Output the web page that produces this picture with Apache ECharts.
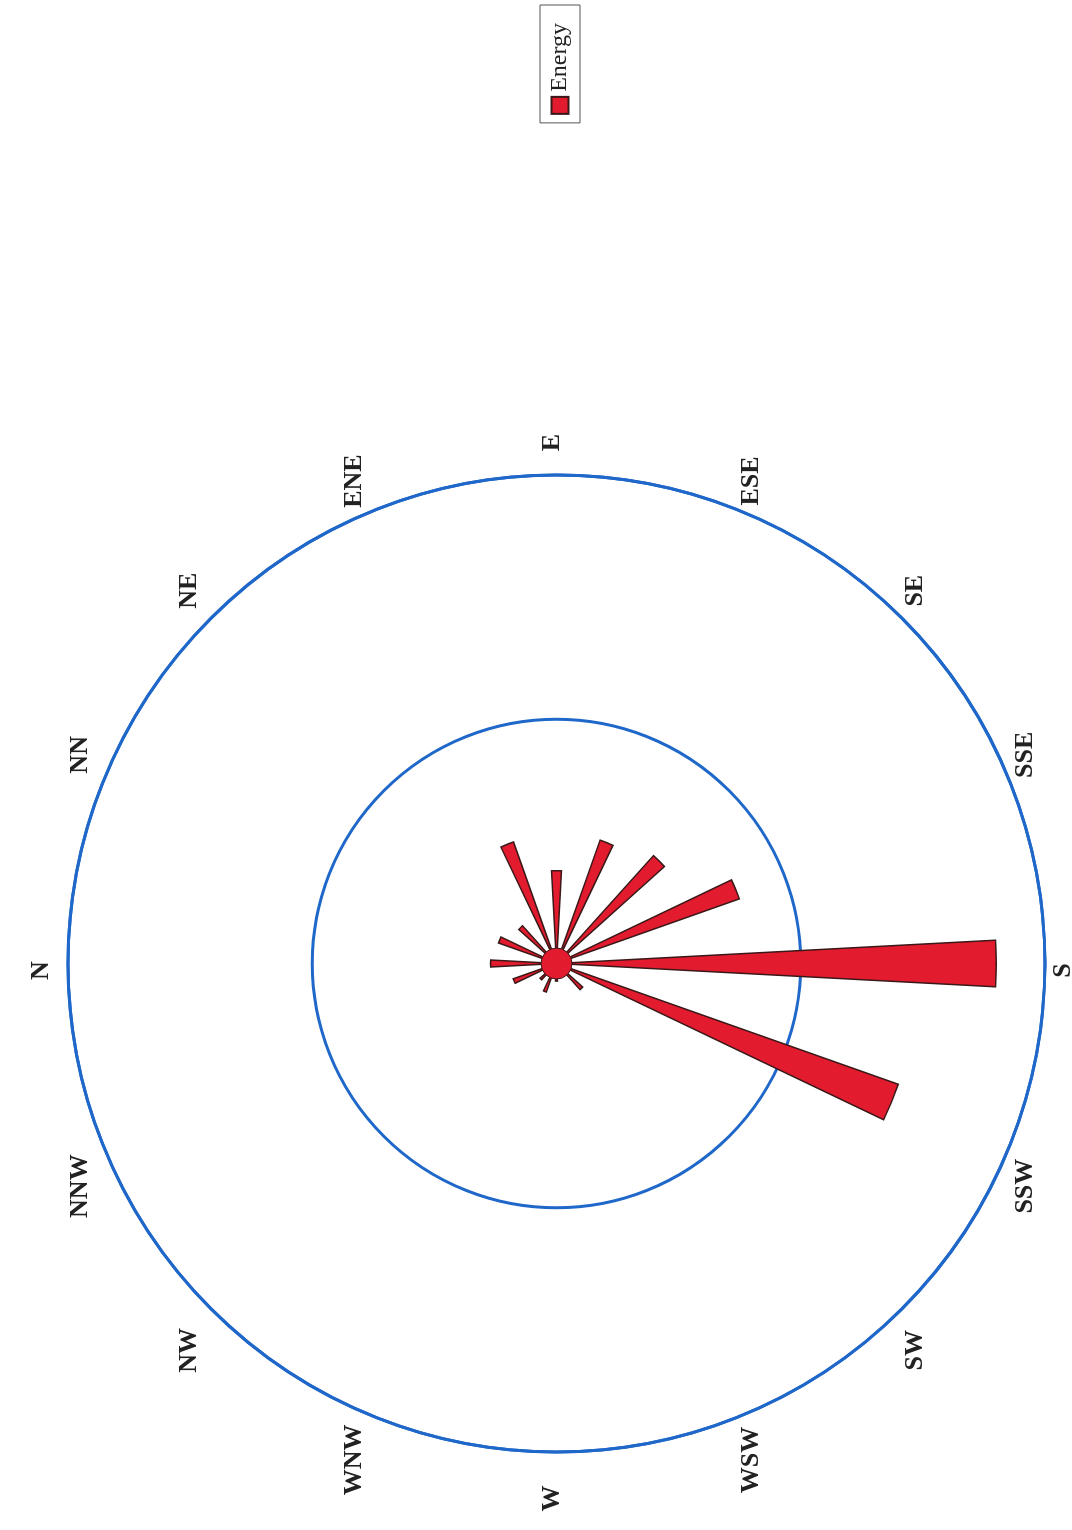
<!DOCTYPE html>
<html>
<head>
<meta charset="utf-8">
<title>Energy rose</title>
<script src="https://cdn.jsdelivr.net/npm/echarts@6/dist/echarts.min.js"></script>
<style>
  html, body { margin: 0; padding: 0; background: #ffffff; overflow: hidden; }
  body { width: 1072px; height: 1530px; position: relative; }
  /* the rose is laid out landscape and turned a quarter turn onto the portrait page */
  #rose {
    position: absolute;
    left: 0;
    top: 1530px;
    width: 1530px;
    height: 1072px;
    transform-origin: 0 0;
    transform: rotate(-90deg);
  }
</style>
</head>
<body>
<div id="rose"></div>
<script>
// sixteen compass sectors, clockwise from north
const directions = ['N', 'NN', 'NE', 'ENE', 'E', 'ESE', 'SE', 'SSE',
                    'S', 'SSW', 'SW', 'WSW', 'W', 'WNW', 'NW', 'NNW'];
// energy per sector (outer ring = 100)
const energy = [13.5, 12.6, 10.4, 26.4, 19.0, 26.8, 29.7, 39.7,
                90.0, 74.2, 7.2, 2.5, 3.6, 6.2, 4.5, 9.4];
// ring values
const ringMax = 100;
const ringStep = 50;
// hub at the centre of the rose
const hub = [[0, 0]];

const RED = '#e31b2f';
const OUTLINE = '#3a1818';
const RING = '#1f68c9';
const SERIF = '"Liberation Serif", "Times New Roman", serif';

const chart = echarts.init(document.getElementById('rose'), null, { renderer: 'canvas' });

chart.setOption({
  animation: false,
  backgroundColor: '#ffffff',
  legend: {
    data: ['Energy'],
    right: 5,
    top: 540,
    icon: 'rect',
    itemWidth: 17,
    itemHeight: 17,
    itemGap: 0,
    padding: [8, 18, 8, 8],
    borderColor: '#555555',
    borderWidth: 1,
    borderRadius: 0,
    textStyle: { fontFamily: SERIF, fontSize: 24, color: '#222222' }
  },
  polar: {
    center: [566.5, 556.5],
    radius: 488.5
  },
  angleAxis: {
    type: 'category',
    data: directions,
    startAngle: 90 + 360 / directions.length / 2,
    clockwise: true,
    boundaryGap: true,
    axisLine: { show: true, lineStyle: { color: RING, width: 3 } },
    axisTick: { show: false },
    splitLine: { show: false },
    axisLabel: {
      interval: 0,
      margin: 17.5,
      // a tiny box with the word centred in it keeps every label centred on its compass point
      width: 2,
      overflow: 'none',
      padding: [0, 28, 8, 14],
      formatter: function (v) { return '{d|' + v + '}'; },
      rich: {
        d: {
          align: 'center',
          verticalAlign: 'middle',
          lineHeight: 2,
          fontFamily: SERIF,
          fontWeight: 'bold',
          fontSize: 26,
          color: '#222222'
        }
      }
    }
  },
  radiusAxis: {
    type: 'value',
    min: 0,
    max: ringMax,
    interval: ringStep,
    axisLine: { show: false },
    axisTick: { show: false },
    axisLabel: { show: false },
    splitLine: { show: true, lineStyle: { color: RING, width: 3 } }
  },
  series: [
    {
      name: 'Energy',
      type: 'bar',
      coordinateSystem: 'polar',
      data: energy,
      barWidth: '27%',
      itemStyle: { color: RED, borderColor: OUTLINE, borderWidth: 1.5 },
      z: 2
    },
    {
      name: 'hub',
      type: 'scatter',
      coordinateSystem: 'polar',
      data: hub,
      symbol: 'circle',
      symbolSize: 31,
      itemStyle: { color: RED, borderColor: OUTLINE, borderWidth: 1, opacity: 1 },
      z: 3,
      silent: true
    }
  ]
});
</script>
</body>
</html>
